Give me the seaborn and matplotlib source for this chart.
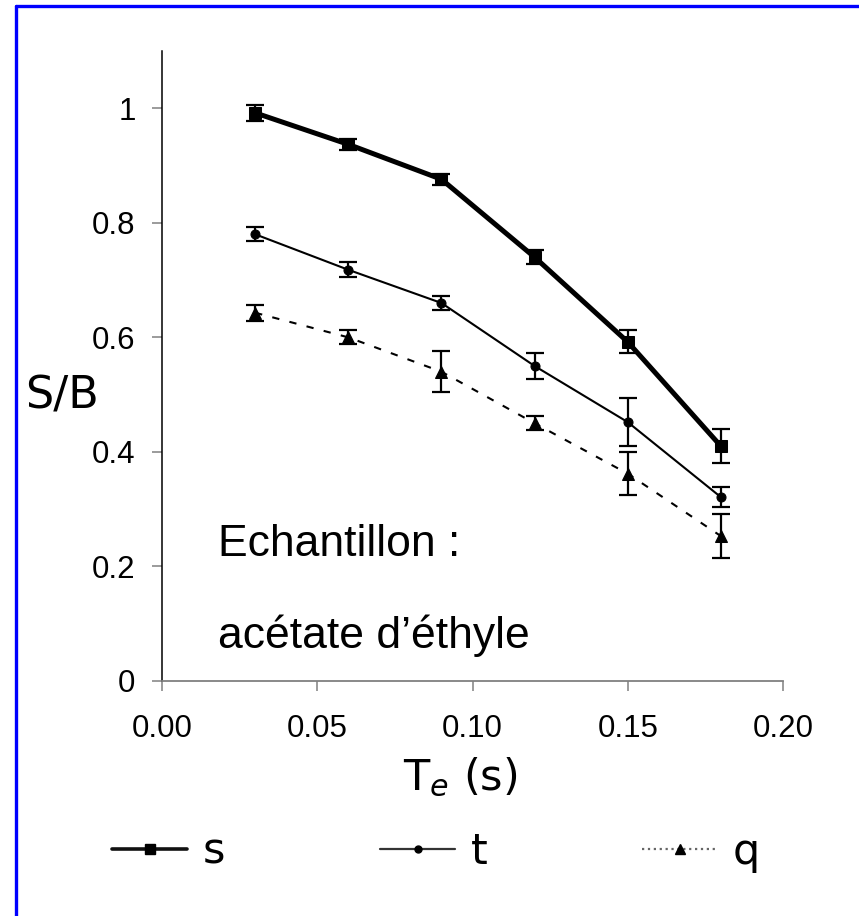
import matplotlib
matplotlib.use("Agg")
import matplotlib.pyplot as plt
import seaborn as sns
import pandas as pd
from matplotlib.lines import Line2D

# ---- data ----
te = [0.03, 0.06, 0.09, 0.12, 0.15, 0.18]
s_vals = [0.992, 0.937, 0.876, 0.740, 0.592, 0.410]
s_err = [0.014, 0.010, 0.010, 0.012, 0.020, 0.030]
t_vals = [0.780, 0.718, 0.660, 0.550, 0.452, 0.321]
t_err = [0.012, 0.013, 0.013, 0.022, 0.042, 0.018]
q_vals = [0.643, 0.600, 0.540, 0.450, 0.362, 0.253]
q_err = [0.014, 0.012, 0.036, 0.012, 0.038, 0.038]
series_names = ["s", "t", "q"]
xticks = [0.00, 0.05, 0.10, 0.15, 0.20]
xtick_labels = ["0.00", "0.05", "0.10", "0.15", "0.20"]
yticks = [0, 0.2, 0.4, 0.6, 0.8, 1.0]
ytick_labels = ["0", "0.2", "0.4", "0.6", "0.8", "1"]

sns.set_style("ticks")
plt.rcParams['font.family'] = ['Liberation Sans', 'DejaVu Sans']
plt.rcParams['text.color'] = 'black'
plt.rcParams['axes.labelcolor'] = 'black'

W, H = 859, 916
fig = plt.figure(figsize=(W / 100, H / 100), dpi=100)
ax = fig.add_axes([162 / W, 1 - 681 / H, (783 - 162) / W, (681 - 51) / H])

styles = {
    "s": dict(lw=3.6, marker="s", ms=9, dashes=(None, None)),
    "t": dict(lw=1.5, marker="o", ms=6.5),
    "q": dict(lw=1.5, marker="^", ms=8.5, dashes=(3.5, 5)),
}
styles["s"].pop("dashes")
vals = {"s": s_vals, "t": t_vals, "q": q_vals}
errs = {"s": s_err, "t": t_err, "q": q_err}

for name in series_names:
    ax.errorbar(te, vals[name], yerr=errs[name], fmt="none", ecolor="black",
                elinewidth=1.6, capsize=6.5, capthick=1.6, zorder=2)
    df = pd.DataFrame({"Te": te, "v": vals[name]})
    sns.lineplot(data=df, x="Te", y="v", ax=ax, color="black", mec="black",
                 mfc="black", zorder=3, legend=False, **styles[name])

ax.set_xlim(0, 0.20)
ax.set_ylim(0, 1.1)
ax.set_xticks(xticks)
ax.set_xticklabels(xtick_labels)
ax.set_yticks(yticks)
ax.set_yticklabels(ytick_labels)
ax.set_xlabel("")
ax.set_ylabel("")
for side in ["top", "right"]:
    ax.spines[side].set_visible(False)
ax.spines["left"].set_color("black")
ax.spines["left"].set_linewidth(1.1)
ax.spines["bottom"].set_color("#808080")
ax.spines["bottom"].set_linewidth(1.3)
ax.tick_params(axis="both", direction="out", length=7, width=1.1, color="#808080",
               labelsize=22.5, labelcolor="black")
ax.tick_params(axis="y", pad=12)
ax.tick_params(axis="x", pad=17)

comic = ["DejaVu Sans"]
fig.text(62 / W, 1 - 396 / H, "S/B", fontsize=32, family=comic, ha="center",
         va="center", color="black")
fig.text(460 / W, 1 - 790 / H, r"T$_{e}$ (s)", fontsize=31, family=comic,
         ha="center", va="baseline", color="black")

fig.text(218 / W, 1 - 556 / H, "Echantillon :", fontsize=32, ha="left",
         va="baseline", color="black")
fig.text(218 / W, 1 - 648 / H, "acétate d’éthyle", fontsize=32, ha="left",
         va="baseline", color="black")

handles = [
    Line2D([], [], color="#111111", lw=2.6, marker="s", ms=7, mfc="black", mec="black"),
    Line2D([], [], color="#333333", lw=1.6, marker="o", ms=5, mfc="black", mec="black"),
    Line2D([], [], color="#666666", lw=1.6, ls=":", marker="^", ms=7, mfc="black", mec="black"),
]
leg = fig.legend(handles, series_names, loc="center", bbox_to_anchor=(436 / W, 1 - 852 / H),
                 ncol=3, frameon=False, handlelength=1.75, handletextpad=0.35,
                 columnspacing=3.6, prop={"family": comic, "size": 31})
for txt in leg.get_texts():
    txt.set_color("black")

# blue border (top and left)
fig.add_artist(Line2D([16 / W, 16 / W], [0, 1 - 6 / H], color="#0000ff", lw=2.4,
                      transform=fig.transFigure))
fig.add_artist(Line2D([16 / W, 1], [1 - 6 / H, 1 - 6 / H], color="#0000ff", lw=2.4,
                      transform=fig.transFigure))

fig.savefig("out.png", dpi=100)
